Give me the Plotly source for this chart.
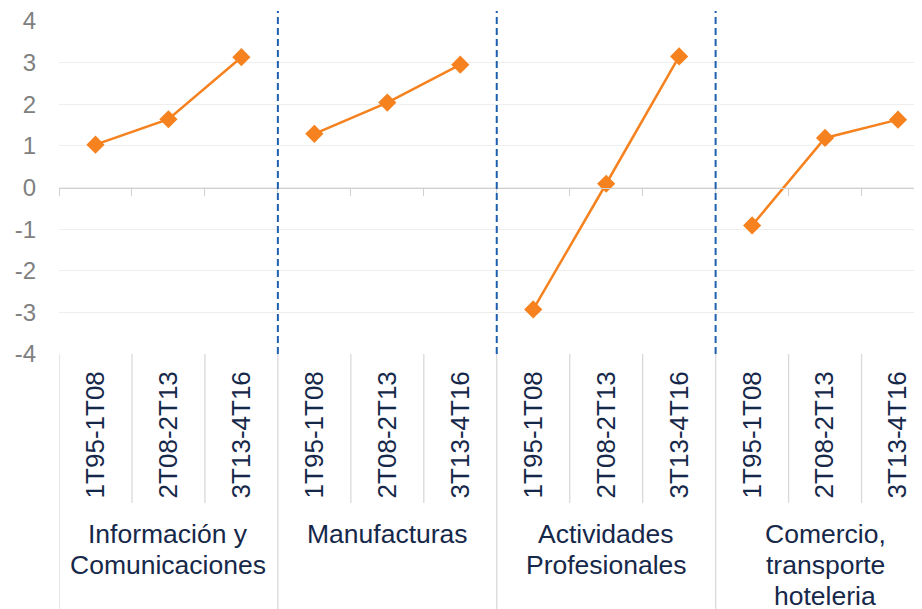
import plotly.graph_objects as go

groups = ["Información y<br>Comunicaciones", "Manufacturas", "Actividades<br>Profesionales",
          "Comercio,<br>transporte<br>hoteleria"]
periods = ["1T95-1T08", "2T08-2T13", "3T13-4T16"]
values = [
    [1.03, 1.64, 3.13],
    [1.29, 2.04, 2.95],
    [-2.93, 0.09, 3.15],
    [-0.91, 1.19, 1.63],
]
y_ticks = [-4, -3, -2, -1, 0, 1, 2, 3, 4]
y_ticktext = ["-4", "-3", "-2", "-1", "0", "1", "2", "3", "4"]

ORANGE = "#F5821F"
NAVY = "#16284A"
GRAY_TXT = "#808080"
SEP = "#D9D9D9"
DASH_BLUE = "#1F5FAF"

n_per = len(periods)
n_cat = len(groups) * n_per

# page body has an 8px margin: compensate
W, H = 914, 601
PL, PT, PH = 50.5, 13, 333
PB = H - PT - PH

fig = go.Figure()
for gi, vals in enumerate(values):
    xs = [gi * n_per + k for k in range(n_per)]
    fig.add_trace(go.Scatter(
        x=xs, y=vals, mode="lines+markers",
        line=dict(color=ORANGE, width=2.5),
        marker=dict(symbol="diamond", size=14, color=ORANGE),
        showlegend=False, hoverinfo="skip",
    ))

tickvals = list(range(n_cat))
ticktext = periods * len(groups)

fig.update_layout(
    width=W, height=H,
    margin=dict(l=PL, r=0, t=PT, b=PB),
    plot_bgcolor="white", paper_bgcolor="white",
    font=dict(family="Liberation Sans, Arial, sans-serif"),
    xaxis=dict(
        range=[-0.5, n_cat - 0.5 - 12.5 / 73],
        tickmode="array", tickvals=tickvals, ticktext=ticktext,
        tickangle=-90, ticks="", showgrid=False, zeroline=False, showline=False,
        tickfont=dict(size=26, color=NAVY),
        ticklabelstandoff=11,
    ),
    xaxis2=dict(
        overlaying="x", matches="x", anchor="free", position=0.5,
        showline=True, linecolor="#D0D0D0", linewidth=1.3,
        ticks="outside", ticklen=7, tickcolor="#D0D0D0", tickwidth=1.3,
        tickmode="array", tickvals=[i - 0.5 for i in range(n_cat + 1)],
        showticklabels=False, showgrid=False, zeroline=False,
    ),
    yaxis=dict(
        range=[-4, 4], tickmode="array", tickvals=y_ticks, ticktext=y_ticktext,
        showgrid=True, gridcolor="#EEEEEE", gridwidth=1,
        zeroline=False, showline=False,
        tickfont=dict(size=24, color=GRAY_TXT),
        ticklabelstandoff=22, ticklabeloverflow="allow",
    ),
)

# invisible trace to anchor xaxis2
fig.add_trace(go.Scatter(x=[0], y=[None], xaxis="x2", showlegend=False, hoverinfo="skip"))

shapes = []
# separators in the label area
for b in range(n_cat + 1):
    xb = b - 0.5
    is_group = (b % n_per == 0)
    shapes.append(dict(type="line", xref="x", yref="paper", x0=xb, x1=xb,
                       y0=0, y1=(-PB / PH if is_group else -(503 - 354) / PH),
                       line=dict(color=SEP, width=1.3)))
# dashed group dividers in the plot
for g in range(1, len(groups)):
    xb = g * n_per - 0.5
    shapes.append(dict(type="line", xref="x", yref="paper", x0=xb, x1=xb,
                       y0=0, y1=1 + 10 / PH,
                       line=dict(color=DASH_BLUE, width=2, dash="7px,4px")))
fig.update_layout(shapes=shapes)

# group labels, one annotation per line with Excel-like line spacing
for gi, g in enumerate(groups):
    for li, line in enumerate(g.split("<br>")):
        top_px = 518 + 31 * li
        fig.add_annotation(x=gi * n_per + 1, xref="x", y=-(top_px - 354) / PH, yref="paper",
                           text=line, showarrow=False, yanchor="top", xanchor="center",
                           font=dict(size=26.5, color=NAVY), align="center",
                           borderpad=0)

fig.write_html("out.html")
